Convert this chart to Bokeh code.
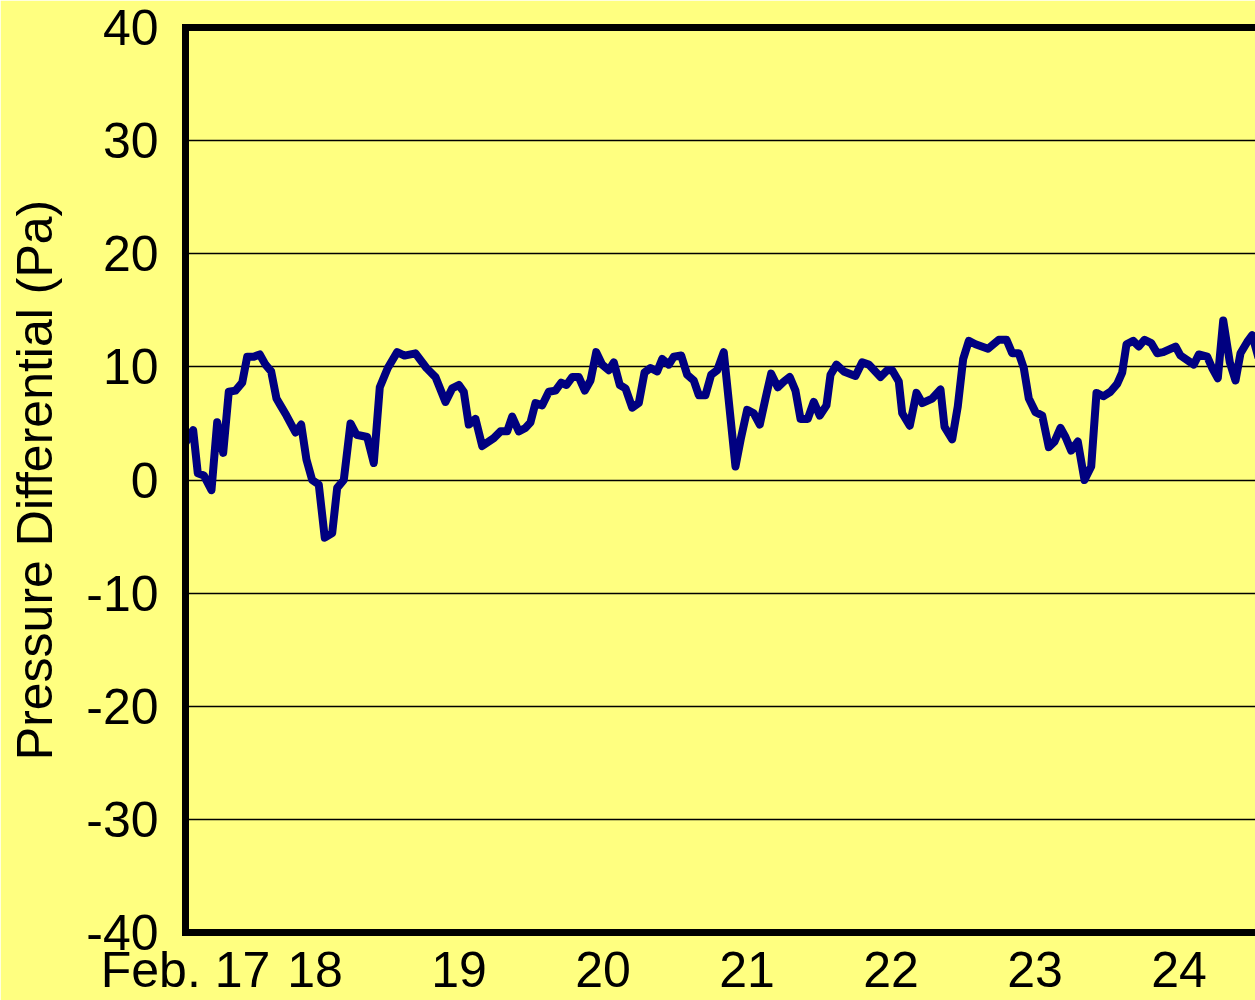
from bokeh.plotting import figure
from bokeh.models import Range1d, FixedTicker, LinearAxis
from bokeh.embed import file_html
from bokeh.resources import INLINE

# Time of each reading, in hours since Feb. 17 00:00
hours = [
    2.42, 3.70, 4.47, 5.47, 6.75, 7.70, 8.70, 9.63, 10.75, 11.87,
    12.70, 13.80, 14.80, 15.75, 16.70, 17.58, 18.25, 19.25, 20.75, 21.70,
    22.58, 23.53, 24.63, 25.63, 26.87, 27.70, 28.80, 29.92, 30.92, 32.70,
    33.80, 34.80, 36.13, 37.70, 38.92, 40.75, 42.58, 44.08, 45.75, 46.87,
    47.97, 48.80, 49.63, 50.75, 51.87, 53.80, 54.92, 56.03, 56.87, 57.97,
    59.08, 59.92, 60.75, 61.87, 62.97, 64.08, 65.03, 65.92, 66.87, 67.97,
    68.97, 69.92, 70.87, 71.87, 72.97, 73.80, 74.80, 75.75, 76.87, 77.97,
    78.92, 79.92, 81.03, 81.87, 82.97, 83.80, 85.03, 86.03, 87.13, 87.97,
    89.08, 90.03, 91.03, 92.13, 94.08, 95.03, 96.03, 97.13, 98.13, 99.08,
    100.03, 101.13, 102.13, 103.13, 104.08, 104.92, 106.13, 107.13, 108.13, 109.25,
    109.92, 110.92, 112.13, 114.08, 115.20, 116.30, 118.25, 119.37, 120.20, 121.30,
    121.87, 123.13, 124.25, 125.20, 126.87, 128.25, 128.92, 130.20, 131.13, 132.03,
    132.97, 134.08, 136.17, 137.97, 139.25, 140.20, 141.30, 142.13, 142.97, 144.08,
    145.20, 146.30, 147.25, 148.25, 149.08, 150.03, 151.13, 152.25, 153.37, 154.25,
    155.37, 156.58, 157.70, 158.53, 159.25, 160.37, 161.30, 162.25, 163.37, 164.37,
    165.37, 167.42, 168.25, 170.47, 171.30, 172.70, 173.53, 174.47, 175.37, 176.47,
    177.42, 178.25, 179.37, 180.20, 181.25,
]

# Pressure differential (Pa)
pressure_pa = [
    3.3, 4.4, 0.6, 0.4, -0.9, 5.1, 2.4, 7.8, 7.9, 8.6,
    10.9, 10.9, 11.1, 10.2, 9.6, 7.2, 6.6, 5.7, 4.2, 4.9,
    1.8, 0.0, -0.4, -5.1, -4.7, -0.7, 0.0, 5.0, 4.0, 3.8,
    1.5, 8.2, 9.9, 11.3, 11.0, 11.2, 9.9, 9.1, 6.9, 8.1,
    8.4, 7.8, 4.9, 5.4, 3.0, 3.7, 4.3, 4.3, 5.6, 4.3,
    4.6, 5.1, 6.8, 6.6, 7.8, 7.9, 8.6, 8.4, 9.1, 9.1,
    7.9, 8.8, 11.3, 10.2, 9.7, 10.4, 8.4, 8.1, 6.4, 6.8,
    9.5, 9.9, 9.6, 10.7, 10.2, 10.9, 11.0, 9.3, 8.8, 7.5,
    7.5, 9.3, 9.7, 11.3, 1.2, 3.8, 6.2, 5.9, 4.9, 7.2,
    9.4, 8.2, 8.7, 9.1, 7.9, 5.4, 5.4, 6.9, 5.7, 6.6,
    9.3, 10.2, 9.6, 9.2, 10.4, 10.2, 9.1, 9.7, 9.7, 8.7,
    5.9, 4.8, 7.7, 6.8, 7.2, 8.0, 4.7, 3.6, 6.5, 10.7,
    12.3, 12.0, 11.6, 12.4, 12.4, 11.2, 11.2, 9.9, 7.2, 6.0,
    5.7, 2.9, 3.4, 4.6, 3.8, 2.6, 3.4, 0.0, 1.2, 7.7,
    7.4, 7.8, 8.5, 9.5, 12.0, 12.3, 11.8, 12.4, 12.1, 11.2,
    11.3, 11.8, 11.0, 10.2, 11.1, 10.9, 9.9, 9.0, 14.1, 10.4,
    8.8, 11.2, 12.2, 12.8, 10.8,
]

x_start = 2.42
x_end = 180.75
day_ticks = [x_start, 24, 48, 72, 96, 120, 144, 168]
day_labels = ["Feb. 17", "18", "19", "20", "21", "22", "23", "24"]
y_ticks = [-40, -30, -20, -10, 0, 10, 20, 30, 40]
y_labels = ["-40", "-30", "-20", "-10", "0", "10", "20", "30", "40"]

BG = "#FFFF80"
FONT = "Liberation Sans"
FS = "50px"

p = figure(
    width=1255, height=1000,
    x_range=Range1d(x_start, x_end), y_range=Range1d(-40, 40),
    output_backend="svg", toolbar_location=None,
    background_fill_color=BG, border_fill_color=BG,
    min_border_left=185, min_border_right=0,
    min_border_top=27, min_border_bottom=67,
)
p.outline_line_color = None

p.line(hours, pressure_pa, line_color="#000080", line_width=8, line_join="round")

# y axis
ya = p.yaxis[0]
ya.ticker = FixedTicker(ticks=y_ticks)
ya.major_label_overrides = {t: lab for t, lab in zip(y_ticks, y_labels)}
ya.axis_label = "Pressure Differential (Pa)"
ya.axis_label_text_font = FONT
ya.axis_label_text_font_size = FS
ya.axis_label_text_font_style = "normal"
ya.axis_label_text_color = "black"
ya.axis_label_standoff = 20
ya.major_label_text_font = FONT
ya.major_label_text_font_size = FS
ya.major_label_text_color = "black"
ya.major_label_standoff = 21
ya.major_tick_line_color = None
ya.minor_tick_line_color = None
ya.axis_line_color = "black"
ya.axis_line_width = 7
ya.axis_line_cap = "square"

# x axis
xa = p.xaxis[0]
xa.ticker = FixedTicker(ticks=day_ticks)
xa.major_label_overrides = {t: lab for t, lab in zip(day_ticks, day_labels)}
xa.major_label_text_font = FONT
xa.major_label_text_font_size = FS
xa.major_label_text_color = "black"
xa.major_label_standoff = 3
xa.major_tick_line_color = None
xa.minor_tick_line_color = None
xa.axis_line_color = "black"
xa.axis_line_width = 7
xa.axis_line_cap = "square"

# top border line
top = LinearAxis(ticker=FixedTicker(ticks=[]), axis_line_width=7, axis_line_color="black",
                 axis_line_cap="square", major_tick_line_color=None,
                 minor_tick_line_color=None, major_label_text_font_size="0px")
p.add_layout(top, "above")

p.xgrid.visible = False
p.ygrid.grid_line_color = "black"
p.ygrid.grid_line_width = 1.5

open("out.html", "w").write(file_html(p, INLINE))
